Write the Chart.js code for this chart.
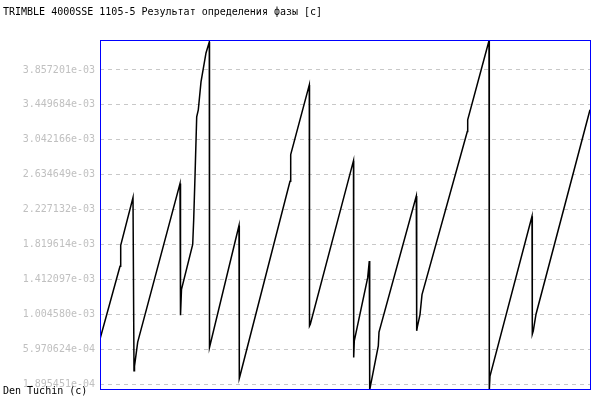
<!DOCTYPE html>
<html>
<head>
<meta charset="utf-8">
<script src="https://cdn.jsdelivr.net/npm/chart.js@4.4.0/dist/chart.umd.min.js"></script>
<style>
  body { margin: 0; background: #fff; }
  canvas { display: block; }
</style>
</head>
<body>
<canvas id="phaseChart" width="600" height="400"></canvas>
<script>
// epoch number (no x labels in the original)
var epochs = [
  0, 20, 20.7, 33, 34, 34.5, 37.7, 80, 80.5, 81.5,
  92.7, 93.7, 95, 96.7, 98.3, 101, 106, 109.3, 109.5, 139,
  139.3, 140, 190, 190.7, 209.3, 209.5, 210.3, 253.5, 253.7, 254.3,
  267.7, 269.3, 269.7, 271, 278.3, 279, 316.3, 316.7, 317.3, 320,
  322, 367.3, 367.7, 389, 389.3, 390, 432, 432.3, 433.3, 436,
  490
];
// phase result, seconds
var phase = [
  0.7135e-3, 1.5634e-3, 1.8079e-3, 2.3668e-3, 0.3444e-3, 0.3991e-3, 0.6785e-3, 2.5298e-3, 0.9929e-3, 1.2956e-3,
  1.8195e-3, 2.1106e-3, 2.6112e-3, 3.3098e-3, 3.3913e-3, 3.7173e-3, 4.0550e-3, 4.1830e-3, 0.6168e-3, 2.0407e-3,
  0.2559e-3, 0.2861e-3, 2.5566e-3, 2.8674e-3, 3.6824e-3, 0.8683e-3, 0.8881e-3, 2.7975e-3, 0.5004e-3, 0.6936e-3,
  1.4318e-3, 1.6251e-3, 0.1196e-3, 0.2012e-3, 0.6354e-3, 0.7949e-3, 2.3842e-3, 0.8101e-3, 0.8532e-3, 1.0001e-3,
  1.2329e-3, 3.1387e-3, 3.2750e-3, 4.1983e-3, 0.1196e-3, 0.2826e-3, 2.1491e-3, 0.7717e-3, 0.8101e-3, 1.0045e-3,
  3.3913e-3
];

var tickValues = [
  1.895451e-4, 5.970624e-4, 1.004580e-3, 1.412097e-3, 1.819614e-3,
  2.227132e-3, 2.634649e-3, 3.042166e-3, 3.449684e-3, 3.857201e-3
];
var tickLabels = [
  "1.895451e-04", "5.970624e-04", "1.004580e-03", "1.412097e-03", "1.819614e-03",
  "2.227132e-03", "2.634649e-03", "3.042166e-03", "3.449684e-03", "3.857201e-03"
];
var yMin = 1.313283e-4;
var yMax = 4.206502e-3;

var titleText = "TRIMBLE 4000SSE 1105-5 Результат определения фазы [c]";
var creditText = "Den Tuchin (c)";
var monoFont = "'DejaVu Sans Mono', monospace";

var points = [];
for (var i = 0; i < epochs.length; i++) {
  points.push({ x: epochs[i], y: phase[i] });
}

// frame + texts
var framePlugin = {
  id: "frame",
  afterDraw: function (chart) {
    var ctx = chart.ctx;
    var a = chart.chartArea;
    ctx.save();
    ctx.strokeStyle = "#0000ff";
    ctx.lineWidth = 1;
    ctx.strokeRect(a.left + 0.5, a.top + 0.5, a.right - a.left, a.bottom - a.top);
    ctx.fillStyle = "#000000";
    ctx.font = "10px " + monoFont;
    ctx.textBaseline = "middle";
    ctx.textAlign = "left";
    ctx.fillText(titleText, 3, 12);
    ctx.fillText(creditText, 3, 391);
    ctx.restore();
  },
};

var ctx = document.getElementById("phaseChart").getContext("2d");
var chart = new Chart(ctx, {
  type: "line",
  data: {
    datasets: [
      {
        data: points,
        borderColor: "#000000",
        borderWidth: 1.5,
        pointRadius: 0,
        tension: 0,
        fill: false,
      },
    ],
  },
  options: {
    responsive: false,
    animation: false,
    layout: { padding: { top: 40, right: 10, bottom: 10, left: 0 } },
    plugins: {
      legend: { display: false },
      tooltip: { enabled: false },
      title: { display: false },
    },
    scales: {
      x: {
        type: "linear",
        min: 0,
        max: 490,
        display: false,
      },
      y: {
        type: "linear",
        min: yMin,
        max: yMax,
        afterFit: function (scale) {
          scale.width = 100;
        },
        afterBuildTicks: function (scale) {
          scale.ticks = tickValues.map(function (v) {
            return { value: v };
          });
        },
        grid: {
          color: "#c8c8c8",
          lineWidth: 1,
          drawTicks: false,
        },
        border: { display: false, dash: [4, 4] },
        ticks: {
          autoSkip: false,
          padding: 5,
          color: "#c0c0c0",
          font: { family: monoFont, size: 10 },
          callback: function (value, index) {
            return tickLabels[index];
          },
        },
      },
    },
  },
  plugins: [framePlugin],
});
</script>
</body>
</html>
